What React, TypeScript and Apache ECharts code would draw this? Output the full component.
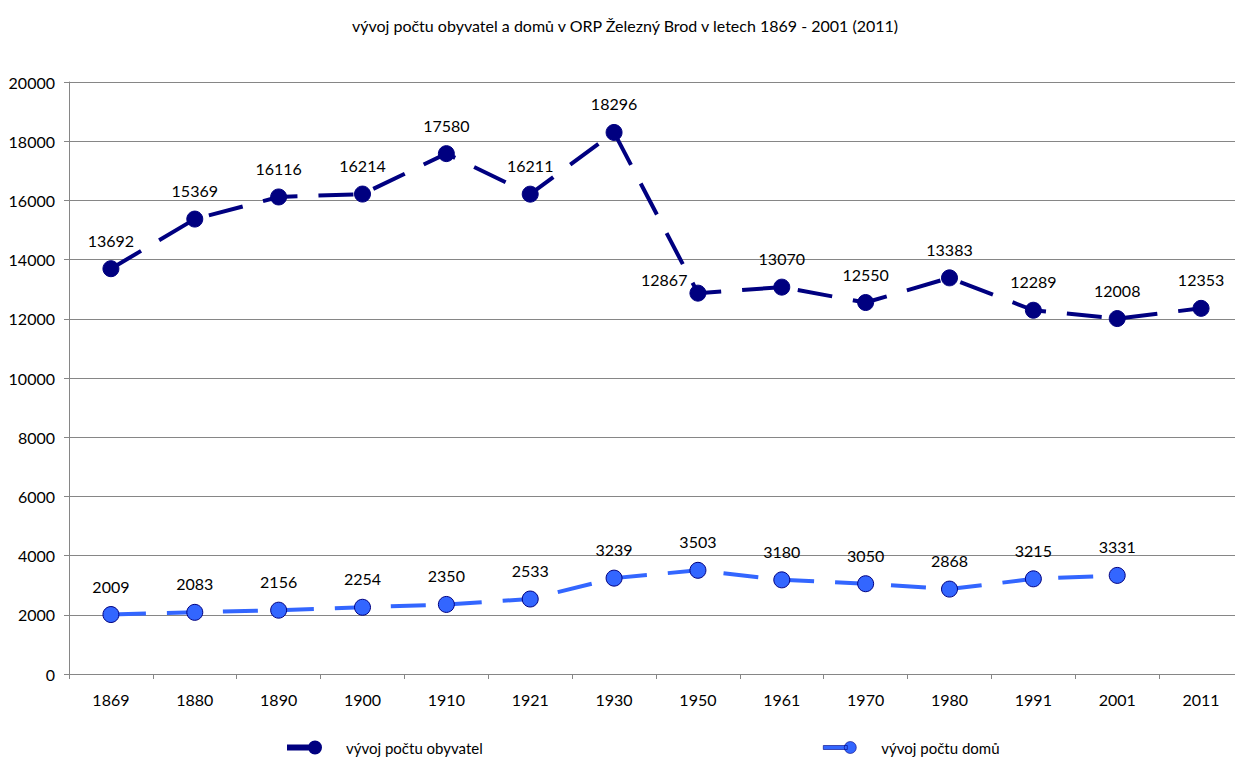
import React, { useEffect, useRef } from "react";
import * as echarts from "echarts";

const years = ["1869", "1880", "1890", "1900", "1910", "1921", "1930", "1950", "1961", "1970", "1980", "1991", "2001", "2011"];
const obyvatel = [13692, 15369, 16116, 16214, 17580, 16211, 18296, 12867, 13070, 12550, 13383, 12289, 12008, 12353];
const domy = [2009, 2083, 2156, 2254, 2350, 2533, 3239, 3503, 3180, 3050, 2868, 3215, 3331, null];
const yTicks = [0, 2000, 4000, 6000, 8000, 10000, 12000, 14000, 16000, 18000, 20000];

const titleText = "vývoj počtu obyvatel a domů v ORP Železný Brod v letech 1869 - 2001 (2011)";
const nameObyv = "vývoj počtu obyvatel";
const nameDomy = "vývoj počtu domů";

const FONT = "Lato, 'Open Sans', sans-serif";
const iconPath =
  "path://M0,4 L24,4 L24,8 L0,8 Z M21,6 A6,6 0 1 1 33,6 A6,6 0 1 1 21,6 Z";

export default function App() {
  const ref = useRef<HTMLDivElement>(null);
  useEffect(() => {
    if (!ref.current) return;
    const chart = echarts.init(ref.current, null, { renderer: "svg" });
    const obyvData = obyvatel.map((v, i) =>
      i === 7
        ? { value: v, label: { position: "left", distance: 2, offset: [0, -14] } }
        : v
    );
    chart.setOption({
      animation: false,
      backgroundColor: "#ffffff",
      textStyle: { fontFamily: FONT },
      title: {
        text: titleText,
        left: 620,
        textAlign: "center",
        top: 12,
        textStyle: { fontSize: 16, fontWeight: "normal", color: "#000", fontFamily: FONT },
      },
      legend: [
        {
          data: [{ name: nameObyv, icon: iconPath }],
          left: 282,
          top: 735,
          itemWidth: 33,
          itemHeight: 12,
          textStyle: { fontSize: 15, color: "#000", fontFamily: FONT, padding: [0, 0, 0, 20] },
        },
        {
          data: [{ name: nameDomy, icon: iconPath }],
          left: 818,
          top: 735,
          itemWidth: 33,
          itemHeight: 12,
          itemStyle: { borderWidth: 0.6 },
          textStyle: { fontSize: 15, color: "#000", fontFamily: FONT, padding: [0, 0, 0, 20] },
        },
      ],
      grid: { left: 69, right: 0, top: 82, bottom: 84, containLabel: false },
      xAxis: {
        type: "category",
        data: years,
        boundaryGap: true,
        axisLine: { lineStyle: { color: "#868686", width: 1 } },
        axisTick: { show: true, length: 5, interval: 0, lineStyle: { color: "#868686" } },
        axisLabel: { fontSize: 16, color: "#000", margin: 17, interval: 0, fontFamily: FONT },
        splitLine: { show: false },
      },
      yAxis: {
        type: "value",
        min: yTicks[0],
        max: yTicks[yTicks.length - 1],
        interval: 2000,
        axisLine: { show: true, lineStyle: { color: "#868686", width: 1 } },
        axisTick: { show: true, length: 5, lineStyle: { color: "#868686" } },
        axisLabel: {
          fontSize: 16,
          color: "#000",
          margin: 14,
          fontFamily: FONT,
          formatter: (v: number) => String(v),
        },
        splitLine: { show: true, lineStyle: { color: "#868686", width: 1 } },
      },
      series: [
        {
          name: nameObyv,
          type: "line",
          data: obyvData,
          symbol: "circle",
          symbolSize: 16,
          color: "#000080",
          itemStyle: { color: "#000080", borderColor: "#000080", borderWidth: 1 },
          lineStyle: { color: "#000080", width: 4, type: [35, 21] },
          label: {
            show: true,
            position: "top",
            distance: 12,
            fontSize: 16,
            color: "#000",
            fontFamily: FONT,
          },
          z: 3,
        },
        {
          name: nameDomy,
          type: "line",
          data: domy,
          symbol: "circle",
          symbolSize: 16,
          color: "#3366FF",
          itemStyle: { color: "#3366FF", borderColor: "#000080", borderWidth: 1 },
          lineStyle: { color: "#3366FF", width: 4, type: [35, 21] },
          label: {
            show: true,
            position: "top",
            distance: 12,
            fontSize: 16,
            color: "#000",
            fontFamily: FONT,
          },
          z: 2,
        },
      ],
    });
    return () => chart.dispose();
  }, []);
  return (
    <div style={{ position: "absolute", left: 0, top: 0, width: 1235, height: 758, overflow: "hidden" }}>
      <div ref={ref} style={{ width: 1243, height: 758 }} />
    </div>
  );
}
